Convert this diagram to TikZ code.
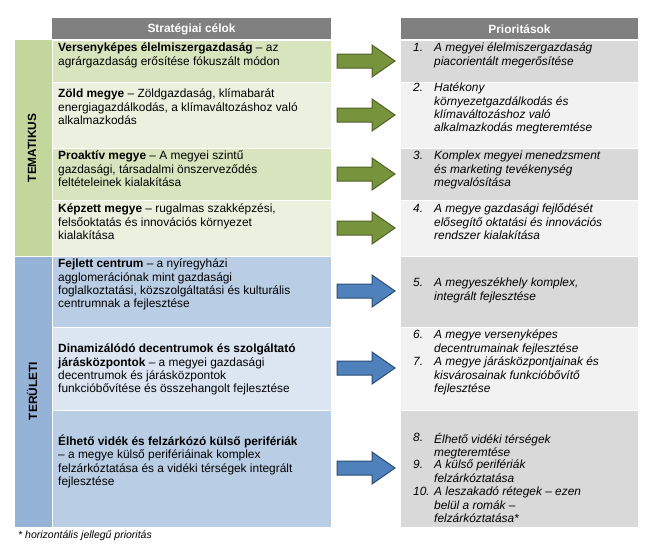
\documentclass[tikz,border=0pt]{standalone}
\usepackage{fontspec}
\setmainfont{Liberation Sans}
\definecolor{hdr}{HTML}{808080}
\definecolor{gA}{HTML}{D7E4BD}
\definecolor{gB}{HTML}{EBF1DE}
\definecolor{gBand}{HTML}{C3D69B}
\definecolor{bA}{HTML}{B9CDE5}
\definecolor{bB}{HTML}{DCE6F2}
\definecolor{bBand}{HTML}{95B3D7}
\definecolor{pA}{HTML}{D9D9D9}
\definecolor{pB}{HTML}{F2F2F2}
\definecolor{garr}{HTML}{77933C}
\definecolor{garrl}{HTML}{4F6228}
\definecolor{barr}{HTML}{4F81BD}
\definecolor{barrl}{HTML}{2C4D75}
\tikzset{
 txt/.style={anchor=north west,align=left,font=\fontsize{11.9}{13.2}\selectfont,inner sep=0pt},
 ptxt/.style={txt,font=\fontsize{11.9}{13.2}\selectfont\itshape},
 hd/.style={font=\fontsize{11.9}{13}\selectfont\bfseries,text=white},
 garrow/.style={draw=garrl,fill=garr,line width=1pt,line join=miter},
 barrow/.style={draw=barrl,fill=barr,line width=1pt,line join=miter},
 pics/fatarrow/.style={code={\path[#1] (-29,-7)--(6,-7)--(6,-16)--(29,0)--(6,16)--(6,7)--(-29,7)--cycle;}}
}
\begin{document}
\begin{tikzpicture}[x=1pt,y=-1pt]
\useasboundingbox (0,0) rectangle (647,557);
\fill[white] (0,0) rectangle (647,557);
% headers
\fill[hdr] (52,18) rectangle (331,39);
\node[hd] (h1) at (191.5,29) {Stratégiai célok};
\fill[hdr] (401,18) rectangle (638,39);
\node[hd] (h2) at (519.5,29) {Prioritások};
% bands
\fill[gBand] (15,40) rectangle (52,256);
\fill[bBand] (15,256) rectangle (52,527);
\node[rotate=90,font=\fontsize{11.9}{13}\selectfont\bfseries] (tem) at (32,148) {TEMATIKUS};
\node[rotate=90,font=\fontsize{11.9}{13}\selectfont\bfseries] (ter) at (32,391) {TERÜLETI};
% left rows
\fill[gA] (52,40) rectangle (331,82);
\fill[gB] (52,82) rectangle (331,148);
\fill[gA] (52,148) rectangle (331,200);
\fill[gB] (52,200) rectangle (331,256);
\fill[bA] (52,256) rectangle (331,327);
\fill[bB] (52,327) rectangle (331,410);
\fill[bA] (52,410) rectangle (331,527);
\draw[white,line width=1pt] (52,40)--(331,40) (52,82)--(331,82) (52,148)--(331,148) (52,200)--(331,200) (15,256)--(331,256) (52,327)--(331,327) (52,410)--(331,410) (52,40)--(52,527);
% right rows
\fill[pA] (401,40) rectangle (638,82);
\fill[pB] (401,82) rectangle (638,148);
\fill[pA] (401,148) rectangle (638,200);
\fill[pB] (401,200) rectangle (638,256);
\fill[pA] (401,256) rectangle (638,327);
\fill[pB] (401,327) rectangle (638,410);
\fill[pA] (401,410) rectangle (638,527);
\draw[white,line width=1pt] (401,40)--(638,40) (401,82)--(638,82) (401,148)--(638,148) (401,200)--(638,200) (401,256)--(638,256) (401,327)--(638,327) (401,410)--(638,410);
% left texts
\node[txt] (l1) at (58,43) {\textbf{Versenyképes élelmiszergazdaság} – az\\agrárgazdaság erősítése fókuszált módon};
\node[txt] (l2) at (58,89) {\textbf{Zöld megye} – Zöldgazdaság, klímabarát\\energiagazdálkodás, a klímaváltozáshoz való\\alkalmazkodás};
\node[txt] (l3) at (58,151) {\textbf{Proaktív megye} – A megyei szintű\\gazdasági, társadalmi önszerveződés\\feltételeinek kialakítása};
\node[txt] (l4) at (58,204) {\textbf{Képzett megye} – rugalmas szakképzési,\\felsőoktatás és innovációs környezet\\kialakítása};
\node[txt] (l5) at (58,259) {\textbf{Fejlett centrum} – a nyíregyházi\\agglomerációnak mint gazdasági\\foglalkoztatási, közszolgáltatási és kulturális\\centrumnak a fejlesztése};
\node[txt] (l6) at (58,344) {\textbf{Dinamizálódó decentrumok és szolgáltató}\\\textbf{járásközpontok} – a megyei gazdasági\\decentrumok és járásközpontok\\funkcióbővítése és összehangolt fejlesztése};
\node[txt] (l7) at (58,435) {\textbf{Élhető vidék és felzárkózó külső perifériák}\\– a megye külső perifériáinak komplex\\felzárkóztatása és a vidéki térségek integrált\\fejlesztése};
% right texts
\node[ptxt] (r1) at (413,43) {1.};
\node[ptxt] (r1t) at (434,43) {A megyei élelmiszergazdaság\\piacorientált megerősítése};
\node[ptxt] (r2) at (413,83) {2.};
\node[ptxt] (r2t) at (434,83) {Hatékony\\környezetgazdálkodás és\\klímaváltozáshoz való\\alkalmazkodás megteremtése};
\node[ptxt] (r3) at (413,151) {3.};
\node[ptxt] (r3t) at (434,151) {Komplex megyei menedzsment\\és marketing tevékenység\\megvalósítása};
\node[ptxt] (r4) at (413,204) {4.};
\node[ptxt] (r4t) at (434,204) {A megye gazdasági fejlődését\\elősegítő oktatási és innovációs\\rendszer kialakítása};
\node[ptxt] (r5) at (413,278) {5.};
\node[ptxt] (r5t) at (434,278) {A megyeszékhely komplex,\\integrált fejlesztése};
\node[ptxt] (r6) at (413,330) {6.};
\node[ptxt] (r6t) at (434,330) {A megye versenyképes\\decentrumainak fejlesztése};
\node[ptxt] (r7) at (413,357) {7.};
\node[ptxt] (r7t) at (434,357) {A megye járásközpontjainak és\\kisvárosainak funkcióbővítő\\fejlesztése};
\node[ptxt] (r8) at (413,433) {8.};
\node[ptxt] (r8t) at (434,433) {Élhető vidéki térségek\\megteremtése};
\node[ptxt] (r9) at (413,460) {9.};
\node[ptxt] (r9t) at (434,460) {A külső perifériák\\felzárkóztatása};
\node[ptxt] (r10) at (413,487) {10.};
\node[ptxt] (r10t) at (434,487) {A leszakadó rétegek – ezen\\belül a romák –\\felzárkóztatása*};
% arrows
\pic at (366,61) {fatarrow=garrow};
\pic at (366,115) {fatarrow=garrow};
\pic at (366,174) {fatarrow=garrow};
\pic at (366,228) {fatarrow=garrow};
\pic at (366,291) {fatarrow=barrow};
\pic at (366,368) {fatarrow=barrow};
\pic at (366,468) {fatarrow=barrow};
% footnote
\node[anchor=west,font=\fontsize{10.5}{12}\selectfont\itshape,inner sep=0pt] (fn) at (18,536) {* horizontális jellegű prioritás};
\end{tikzpicture}
\end{document}
